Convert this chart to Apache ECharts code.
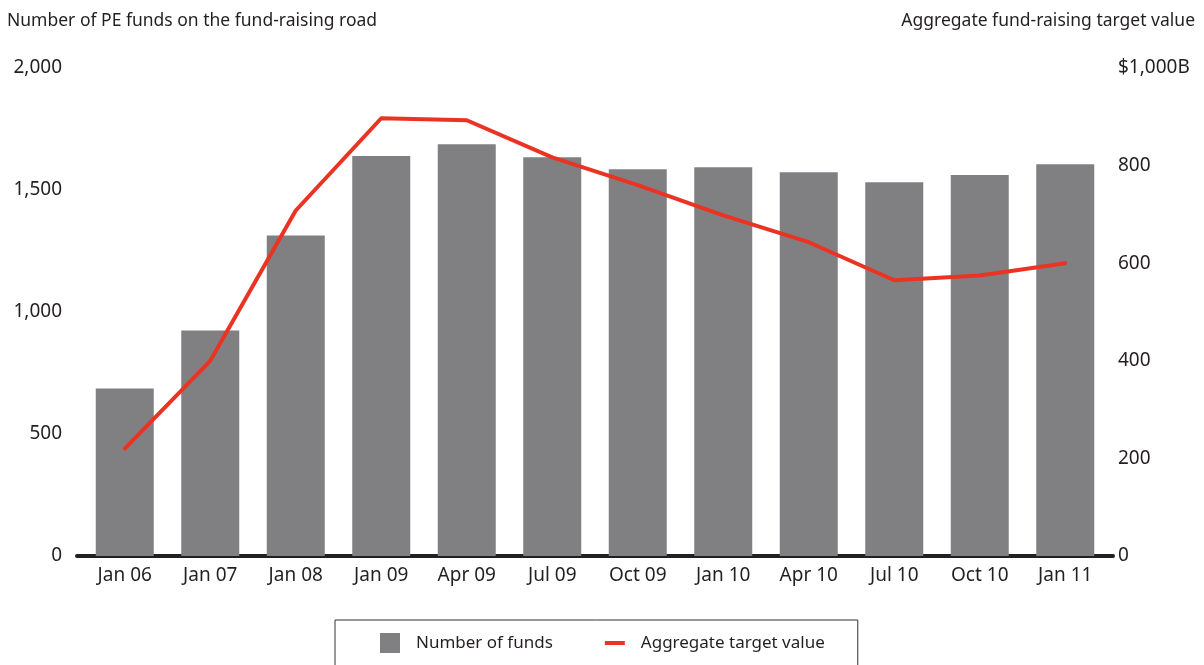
<!DOCTYPE html>
<html>
<head>
<meta charset="utf-8">
<script src="https://cdn.jsdelivr.net/npm/echarts@6/dist/echarts.min.js"></script>
<style>
  html, body { margin: 0; padding: 0; background: #fff; }
  #main { width: 1204px; height: 665px; }
</style>
</head>
<body>
<div id="main"></div>
<script>
// periods on the x axis
var periods = ['Jan 06', 'Jan 07', 'Jan 08', 'Jan 09', 'Apr 09', 'Jul 09', 'Oct 09', 'Jan 10', 'Apr 10', 'Jul 10', 'Oct 10', 'Jan 11']
// number of PE funds (left axis)
var fundCount = [686, 924, 1314, 1639, 1688, 1634, 1585, 1593, 1573, 1532, 1561, 1606]
// aggregate target value, $B (right axis)
var targetValue = [220, 400, 708, 897, 893, 817, 760, 698, 643, 565, 575, 600]

var font = 'Noto Sans'
var textColor = '#231f20'

var chart = echarts.init(document.getElementById('main'))
chart.setOption({
  animation: false,
  textStyle: { fontFamily: font },
  title: [
    {
      text: 'Number of PE funds on the fund-raising road',
      left: 2, top: 7,
      textStyle: { fontFamily: font, fontSize: 17.5, fontWeight: 'normal', color: textColor }
    },
    {
      text: 'Aggregate fund-raising target value',
      right: 4, top: 7,
      textStyle: { fontFamily: font, fontSize: 17.5, fontWeight: 'normal', color: textColor }
    }
  ],
  grid: [
    { left: 82, right: 96, top: 68, bottom: 109 },
    // only carries the long baseline, which runs a bit past the bars
    { left: 77, right: 91, top: 68, bottom: 109 }
  ],
  legend: {
    left: 335,
    top: 620,
    padding: [13, 33, 30, 45],
    itemGap: 52,
    itemWidth: 20,
    itemHeight: 20,
    borderColor: '#333',
    borderWidth: 1,
    textStyle: { fontFamily: font, fontSize: 17, color: textColor, padding: [0, 0, 0, 11] },
    data: [
      { name: 'Number of funds', icon: 'rect' },
      { name: 'Aggregate target value', icon: 'path://M0,8 L20,8 L20,12 L0,12 Z' }
    ]
  },
  xAxis: [
    {
      type: 'category',
      data: periods,
      axisLine: { show: false },
      axisTick: { show: false },
      axisLabel: { fontFamily: font, fontSize: 19, color: textColor, margin: 10 }
    },
    {
      type: 'value',
      gridIndex: 1,
      min: 0, max: 1,
      axisLine: { show: true, lineStyle: { color: '#231f20', width: 4 } },
      axisTick: { show: false },
      axisLabel: { show: false },
      splitLine: { show: false }
    }
  ],
  yAxis: [
    {
      type: 'value',
      min: 0, max: 2000, interval: 500,
      splitLine: { show: false },
      axisLine: { show: false },
      axisTick: { show: false },
      axisLabel: {
        fontFamily: font, fontSize: 19, color: textColor, margin: 20,
        formatter: function (v) { return v.toLocaleString('en-US') }
      }
    },
    {
      type: 'value',
      min: 0, max: 1000, interval: 200,
      splitLine: { show: false },
      axisLine: { show: false },
      axisTick: { show: false },
      axisLabel: {
        fontFamily: font, fontSize: 19, color: textColor, margin: 10,
        formatter: function (v) { return v === 1000 ? '$1,000B' : String(v) }
      }
    },
    {
      type: 'value',
      gridIndex: 1,
      show: false
    }
  ],
  series: [
    {
      name: 'Number of funds',
      type: 'bar',
      data: fundCount,
      barWidth: 58,
      itemStyle: { color: '#808083' }
    },
    {
      name: 'Aggregate target value',
      type: 'line',
      yAxisIndex: 1,
      data: targetValue,
      showSymbol: false,
      symbol: 'none',
      z: 3,
      lineStyle: { color: '#ea3323', width: 4, cap: 'round', join: 'round' },
      itemStyle: { color: '#ea3323' }
    }
  ]
})
</script>
</body>
</html>
